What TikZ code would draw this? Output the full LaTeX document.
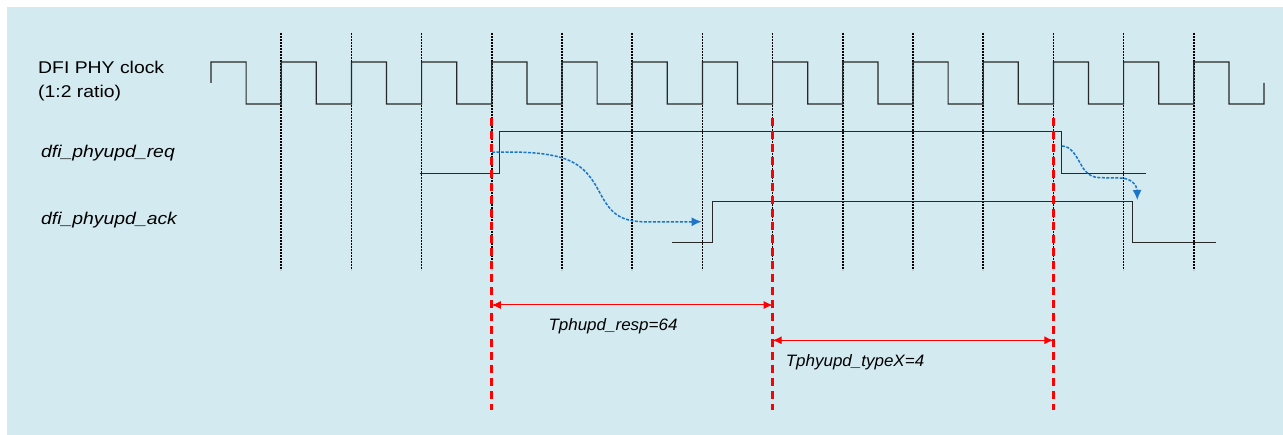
\documentclass[tikz,border=0pt]{standalone}
\usepackage{fontspec}
\setmainfont{Liberation Sans}
\usetikzlibrary{arrows.meta}
\definecolor{bgblue}{RGB}{210,234,240}
\definecolor{sigline}{RGB}{40,40,40}
\definecolor{flowblue}{RGB}{28,117,200}
\definecolor{mkred}{RGB}{255,0,0}
\tikzset{
  clk/.style={draw=sigline, line width=1.2pt},
  sig/.style={draw=sigline, line width=1.2pt},
  gridline/.style={draw=black, line width=1.5pt, dash pattern=on 2pt off 1pt},
  marker/.style={draw=mkred, line width=2.8pt, dash pattern=on 8pt off 5pt},
  dim/.style={draw=mkred, line width=1pt, {Latex[length=9pt,width=8pt]}-{Latex[length=9pt,width=8pt]}},
  flow/.style={draw=flowblue, line width=1.5pt, dash pattern=on 3pt off 1.5pt, -{Latex[length=10pt,width=9pt]}},
  lbl/.style={anchor=base west, inner sep=0pt, font=\fontsize{17}{20}\selectfont},
  tlbl/.style={anchor=base, inner sep=0pt, font=\fontsize{16.5}{19}\selectfont\itshape},
}
\begin{document}
\begin{tikzpicture}[x=1pt,y=-1pt]
\useasboundingbox (0,0) rectangle (1283,435);
\fill[white] (0,0) rectangle (1283,435);
\fill[bgblue] (7,7) rectangle (1283,435);

% dotted clock grid
\foreach \k in {1,...,14} \draw[gridline] ({211+\k*70.2},33) -- ({211+\k*70.2},270);

% clock
\draw[clk] (211,83) foreach \k in {0,...,14} { -- ({211+\k*70.2},62) -- ({211+\k*70.2+35.1},62) -- ({211+\k*70.2+35.1},104) -- ({211+(\k+1)*70.2},104) } -- (1264,83);

% labels
\node[lbl] (clkname) at (38,73.5) {\scalebox{1.14}[1]{DFI PHY clock}};
\node[lbl] (clkratio) at (38,97.5) {\scalebox{1.14}[1]{(1:2 ratio)}};
\node[lbl, font=\fontsize{17}{20}\selectfont\itshape] (reqname) at (41,157.5) {\scalebox{1.14}[1]{dfi\_phyupd\_req}};
\node[lbl, font=\fontsize{17}{20}\selectfont\itshape] (ackname) at (41,224.3) {\scalebox{1.14}[1]{dfi\_phyupd\_ack}};

% req / ack
\draw[sig] (419.5,173.3) -- (499.3,173.3) -- (499.3,131.7) -- (1061.7,131.7) -- (1061.7,173.3) -- (1146,173.3);
\draw[sig] (672.3,242.7) -- (712.3,242.7) -- (712.3,201.3) -- (1132.3,201.3) -- (1132.3,242.7) -- (1216,242.7);

% red markers
\coordinate (m1t) at (491.8,118); \coordinate (m1b) at (491.8,410);
\coordinate (m2t) at (772.6,118); \coordinate (m2b) at (772.6,410);
\coordinate (m3t) at (1053.4,118); \coordinate (m3b) at (1053.4,410);
\draw[marker] (m1t) -- (m1b);
\draw[marker] (m2t) -- (m2b);
\draw[marker] (m3t) -- (m3b);

% blue flow arrows
\coordinate (f1s) at (492,152.3);
\coordinate (f1e) at (701.7,221.7);
\draw[flow] (f1s) .. controls (570,150) and (584,163) .. (600,193) .. controls (612,216) and (622,222) .. (650,222) -- (f1e);
\coordinate (f2s) at (1062,146);
\coordinate (f2e) at (1137.3,200);
\draw[flow] (f2s) .. controls (1072,146) and (1077,158) .. (1083,168) .. controls (1088,175) and (1093,177.7) .. (1100,177.7) -- (1120,178) .. controls (1131,178) and (1137,185) .. (f2e);

% dimensions
\coordinate (d1a) at (491.8,305); \coordinate (d1b) at (772.6,305);
\coordinate (d2a) at (772.6,340.3); \coordinate (d2b) at (1053.4,340.3);
\draw[dim] (d1a) -- (d1b);
\draw[dim] (d2a) -- (d2b);
\node[tlbl] (respl) at (613,331) {\scalebox{1.03}[1]{Tphupd\_resp=64}};
\node[tlbl] (typel) at (855,366.5) {\scalebox{1.03}[1]{Tphyupd\_typeX=4}};
\end{tikzpicture}
\end{document}
